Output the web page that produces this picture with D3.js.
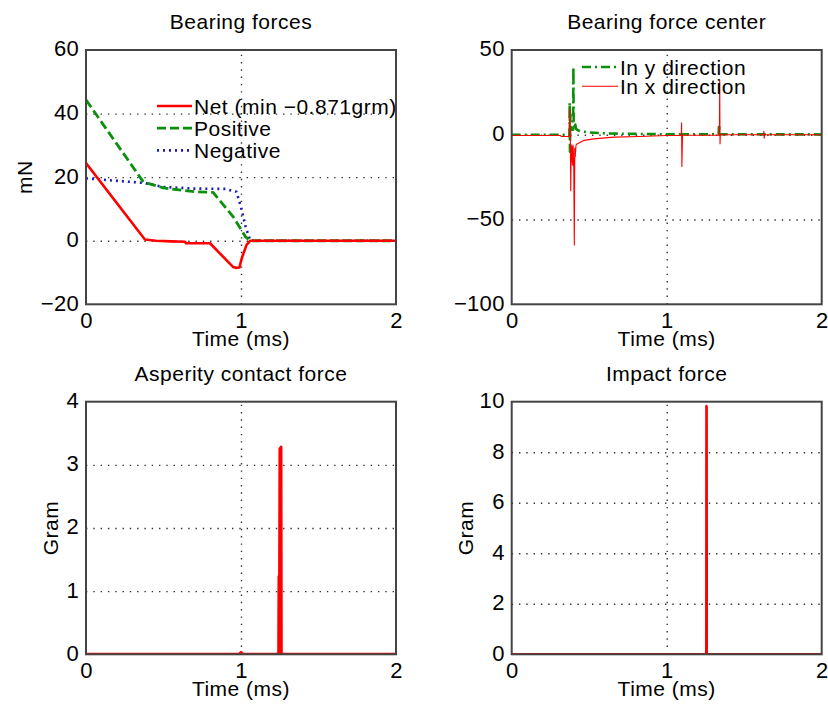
<!DOCTYPE html>
<html>
<head>
<meta charset="utf-8">
<script src="https://cdn.jsdelivr.net/npm/d3@7"></script>
<style>
  body { margin: 0; background: #fff; }
  text { font-family: "Liberation Sans", Arial, sans-serif; font-size: 21px; fill: #000; letter-spacing: 0.5px; }
  .ax text { font-size: 22px; letter-spacing: 0.3px; }
  .grid line { stroke: #333; stroke-width: 1.4; stroke-dasharray: 1.4 5.9; }
  .grid path { display: none; }
  .ax path { display: none; }
</style>
</head>
<body>
<svg id="chart" width="828" height="705"></svg>
<script>
// Shared time axis (ms)
const timeDomain = [0, 2];
const timeTicks = [0, 1, 2];

// Bearing forces (mN): [time, value]
const netForce = [[0, 24.4], [0.38, 0.4], [0.45, 0], [0.55, -0.2], [0.639, -0.3], [0.645, -0.8], [0.8, -0.8],
  [0.95, -8.3], [0.97, -8.54], [0.99, -8.4], [1.005, -5.5], [1.035, -1.4], [1.06, 0], [2, 0]];
const positiveForce = [[0, 44.3], [0.37, 18.5], [0.5, 16.6], [0.7, 15.4], [0.82, 15.2], [0.95, 7.5],
  [1.03, 1.2], [1.06, 0], [2, 0]];
const negativeForce = [[0, 19.6], [0.37, 18.2], [0.5, 16.9], [0.7, 16.4], [0.9, 16.3], [0.97, 15.4],
  [1.0, 10.6], [1.03, 4.3], [1.06, 0], [2, 0]];
const forceTicks = [-20, 0, 20, 40, 60];

// Bearing force center: [time, value]
const yDirection = [[0, 0], [0.35, 0], [0.36, -0.8], [0.372, -0.8], [0.374, 19], [0.376, -10], [0.378, 12],
  [0.381, 3], [0.396, 3], [0.398, 40], [0.4, 6], [0.405, 4], [0.41, 6], [0.415, 3.5], [0.43, 2.5],
  [0.445, 2], [0.5, 1.4], [0.6, 0.8], [0.8, 0.5], [1.0, 0.3], [1.085, 0.3], [1.088, 2], [1.092, 0.3],
  [1.335, 0.3], [1.338, 6], [1.342, 0.3], [2, 0.2]];
const xDirection = [[0, -0.4], [0.316, -0.4], [0.318, -1], [0.372, -1], [0.375, 15], [0.378, 3], [0.381, -33],
  [0.384, -6], [0.387, -16], [0.39, -7], [0.393, -18], [0.396, -6], [0.4, -15], [0.404, -65], [0.407, -8],
  [0.41, -13], [0.415, -6], [0.424, -5.3], [0.467, -3.3], [0.531, -2.4], [0.66, -1.4], [0.83, -1],
  [1.0, -0.4], [1.094, -0.3], [1.096, 7], [1.098, -18.7], [1.1, -10], [1.102, -0.3], [1.34, -0.3],
  [1.342, 32], [1.344, -5.3], [1.346, 0], [1.625, 0], [1.627, 2], [1.629, -2], [1.631, 0], [2, 0]];
const centerTicks = [-100, -50, 0, 50];

// Asperity contact force (gram)
const asperityForce = [[0, 0], [0.99, 0], [1.0, 0.03], [1.01, 0], [1.243, 0], [1.245, 1.23], [1.249, 1.25],
  [1.251, 3.25], [1.258, 3.28], [1.26, 0], [2, 0]];
const asperityTicks = [0, 1, 2, 3, 4];

// Impact force (gram)
const impactForce = [[0, 0], [1.255, 0], [1.256, 9.83], [1.258, 9.8], [1.259, 0], [2, 0]];
const impactTicks = [0, 2, 4, 6, 8, 10];

const svg = d3.select("#chart");
const intFmt = d3.format("d");
let clipId = 0;

function panel(cfg) {
  const x = d3.scaleLinear().domain(timeDomain).range([cfg.x0, cfg.x1]);
  const y = d3.scaleLinear().domain([cfg.ticks[0], cfg.ticks[cfg.ticks.length - 1]]).range([cfg.y1, cfg.y0]);
  const w = cfg.x1 - cfg.x0, h = cfg.y1 - cfg.y0;
  const g = svg.append("g");

  // dotted grid at interior ticks
  g.append("g").attr("class", "grid").attr("transform", `translate(${cfg.x0},0)`)
    .call(d3.axisLeft(y).tickValues(cfg.ticks.slice(1, -1)).tickSize(-w).tickFormat(""));
  g.append("g").attr("class", "grid").attr("transform", `translate(0,${cfg.y1})`)
    .call(d3.axisBottom(x).tickValues(timeTicks.slice(1, -1)).tickSize(-h).tickFormat(""));

  // series
  const id = "clip" + (clipId++);
  svg.append("clipPath").attr("id", id).append("rect")
    .attr("x", cfg.x0).attr("y", cfg.y0).attr("width", w).attr("height", h);
  const line = d3.line().x(d => x(d[0])).y(d => y(d[1]));
  const lg = g.append("g").attr("clip-path", `url(#${id})`);
  cfg.series.forEach(s => {
    lg.append("path").datum(s.data).attr("d", line)
      .attr("fill", "none").attr("stroke", s.color).attr("stroke-width", s.width)
      .attr("stroke-dasharray", s.dash || null).attr("stroke-linejoin", "round");
  });

  // box
  g.append("rect").attr("x", cfg.x0).attr("y", cfg.y0).attr("width", w).attr("height", h)
    .attr("fill", "none").attr("stroke", "#444").attr("stroke-width", 2);

  // tick labels
  const ya = g.append("g").attr("class", "ax").attr("transform", `translate(${cfg.x0},0)`)
    .call(d3.axisLeft(y).tickValues(cfg.ticks).tickSize(0).tickPadding(7).tickFormat(intFmt));
  ya.selectAll("text").attr("dy", "0.27em");
  const xa = g.append("g").attr("class", "ax").attr("transform", `translate(0,${cfg.y1})`)
    .call(d3.axisBottom(x).tickValues(timeTicks).tickSize(0).tickPadding(8).tickFormat(intFmt));
  [ya, xa].forEach(a => a.attr("font-size", null).attr("font-family", null));

  // titles
  g.append("text").attr("x", (cfg.x0 + cfg.x1) / 2).attr("y", cfg.y0 - 21)
    .attr("text-anchor", "middle").text(cfg.title);
  g.append("text").attr("x", (cfg.x0 + cfg.x1) / 2).attr("y", cfg.y1 + 42)
    .attr("text-anchor", "middle").text("Time (ms)");
  if (cfg.ylabel) {
    g.append("text").attr("transform", `translate(${cfg.ylabelX},${(cfg.y0 + cfg.y1) / 2}) rotate(-90)`)
      .attr("text-anchor", "middle").text(cfg.ylabel);
  }

  // legend
  if (cfg.legend) {
    const L = cfg.legend;
    cfg.series.slice().sort((a, b) => a.order - b.order).forEach((s, i) => {
      const ly = L.y + i * L.step;
      g.append("line").attr("x1", L.x).attr("x2", L.x + L.len).attr("y1", ly).attr("y2", ly)
        .attr("stroke", s.color).attr("stroke-width", s.width).attr("stroke-dasharray", s.dash || null);
      g.append("text").attr("x", L.x + L.len + 2).attr("y", ly + 7.5).text(s.name);
    });
  }
}

panel({
  x0: 86, x1: 396, y0: 50, y1: 304.3, ticks: forceTicks,
  title: "Bearing forces", ylabel: "mN", ylabelX: 31.5,
  series: [
    { name: "Negative", data: negativeForce, color: "#1c1cb4", width: 2.6, dash: "2 4", order: 2 },
    { name: "Positive", data: positiveForce, color: "#0b900b", width: 2.8, dash: "9 4", order: 1 },
    { name: "Net (min \u22120.871grm)", data: netForce, color: "#ff0000", width: 2.6, order: 0 }
  ],
  legend: { x: 157, y: 106, step: 22.2, len: 35 }
});

panel({
  x0: 511.7, x1: 821.7, y0: 50, y1: 304.3, ticks: centerTicks,
  title: "Bearing force center",
  series: [
    { name: "In y direction", data: yDirection, color: "#0b900b", width: 2.6, dash: "9 4 2 4", order: 0 },
    { name: "In x direction", data: xDirection, color: "#ff0000", width: 1.1, order: 1 }
  ],
  legend: { x: 582, y: 67, step: 19.3, len: 36 }
});

panel({
  x0: 86, x1: 396, y0: 401.7, y1: 654.3, ticks: asperityTicks,
  title: "Asperity contact force", ylabel: "Gram", ylabelX: 58,
  series: [{ name: "Asperity", data: asperityForce, color: "#ff0000", width: 3 }]
});

panel({
  x0: 511.7, x1: 821.7, y0: 401.7, y1: 654.3, ticks: impactTicks,
  title: "Impact force", ylabel: "Gram", ylabelX: 472.5,
  series: [{ name: "Impact", data: impactForce, color: "#ff0000", width: 2.4 }]
});
</script>
</body>
</html>
